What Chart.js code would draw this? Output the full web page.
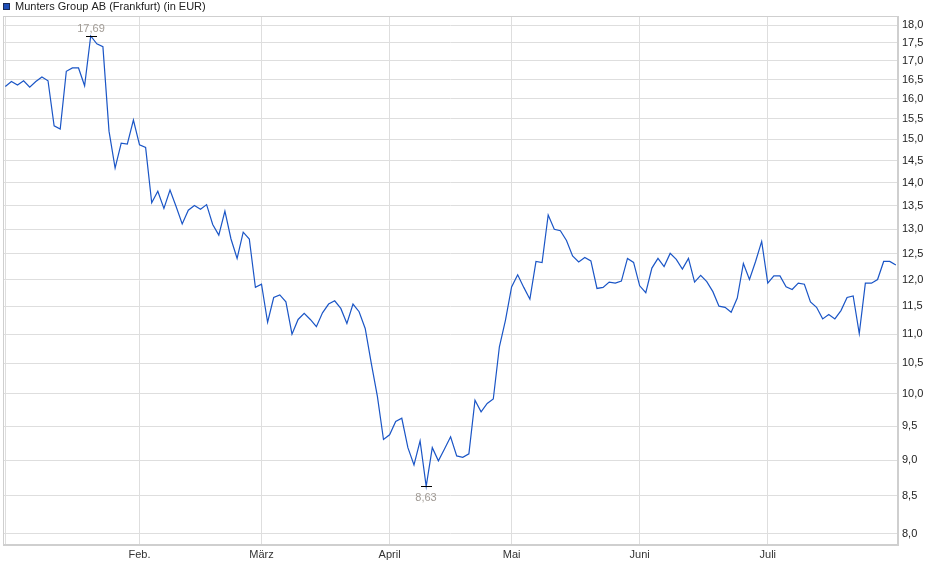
<!DOCTYPE html>
<html><head><meta charset="utf-8">
<script src="https://cdn.jsdelivr.net/npm/chart.js@4.4.1/dist/chart.umd.min.js"></script>
<style>html,body{margin:0;padding:0;background:#fff;}canvas{display:block;}</style>
</head><body>
<canvas id="c" width="940" height="579"></canvas>
<script>
const seriesTitle = 'Munters Group AB (Frankfurt) (in EUR)';
const monthKeys = ['2025-01','2025-02','2025-03','2025-04','2025-05','2025-06','2025-07'];
const monthLabels = ['', 'Feb.', 'März', 'April', 'Mai', 'Juni', 'Juli'];
const tradingDays = [
  [2,3,6,7,8,9,10,13,14,15,16,17,20,21,22,23,24,27,28,29,30,31],
  [3,4,5,6,7,10,11,12,13,14,17,18,19,20,21,24,25,26,27,28],
  [3,4,5,6,7,10,11,12,13,14,17,18,19,20,21,24,25,26,27,28,31],
  [1,2,3,4,7,8,9,10,11,14,15,16,17,22,23,24,25,28,29,30],
  [2,5,6,7,8,9,12,13,14,15,16,19,20,21,22,23,26,27,28,29,30],
  [2,3,4,5,6,9,10,11,12,13,16,17,18,19,20,23,24,25,26,27,30],
  [1,2,3,4,7,8,9,10,11,14,15,16,17,18,21,22,23,24,25,28,29,30]
];
const prices = [
  16.32,16.45,16.36,16.47,16.30,16.45,16.57,16.47,15.33,15.25,
  16.72,16.81,16.81,16.34,17.69,17.47,17.39,15.20,14.33,14.91,
  14.89,15.47,14.87,14.81,13.56,13.81,13.44,13.84,13.48,13.11,
  13.40,13.50,13.42,13.52,13.10,12.88,13.38,12.80,12.41,12.94,
  12.80,11.85,11.91,11.21,11.66,11.71,11.58,11.00,11.26,11.37,
  11.26,11.13,11.38,11.54,11.60,11.46,11.19,11.54,11.40,11.10,
  10.50,9.96,9.30,9.37,9.57,9.62,9.18,8.93,9.28,8.63,
  9.18,8.99,9.16,9.34,9.06,9.04,9.09,9.90,9.72,9.85,
  9.92,10.78,11.25,11.86,12.09,11.85,11.63,12.35,12.33,13.30,
  13.00,12.97,12.77,12.46,12.34,12.43,12.36,11.83,11.85,11.95,
  11.93,11.97,12.41,12.33,11.88,11.75,12.22,12.41,12.25,12.51,
  12.39,12.20,12.41,11.95,12.08,11.96,11.77,11.50,11.48,11.39,
  11.65,12.31,12.00,12.35,12.75,11.93,12.07,12.07,11.86,11.81,
  11.93,11.91,11.58,11.48,11.27,11.35,11.27,11.42,11.66,11.69,
  11.01,11.93,11.93,12.00,12.35,12.35,12.28
];
const yTicks = [8.0,8.5,9.0,9.5,10.0,10.5,11.0,11.5,12.0,12.5,13.0,13.5,14.0,14.5,15.0,15.5,16.0,16.5,17.0,17.5,18.0];

// category labels (dates) and first trading day of each month
const dates = [];
const monthStart = [];
tradingDays.forEach((days, m) => {
  monthStart.push(dates.length);
  days.forEach(d => dates.push(monthKeys[m] + '-' + String(d).padStart(2, '0')));
});

const FONT = 'Liberation Sans, Arial, sans-serif';
const fmt = v => Number(v).toFixed(2).replace('.', ',');

const framePlugin = {
  id: 'frame',
  beforeDatasetsDraw(chart) {
    const {ctx, chartArea: a} = chart;
    ctx.save();
    ctx.strokeStyle = '#cfcfcf';
    ctx.lineWidth = 1;
    ctx.strokeRect(Math.round(a.left) + 0.5, Math.round(a.top) + 0.5,
                   Math.round(a.right - a.left) - 1, Math.round(a.bottom - a.top) - 1);
    ctx.restore();
  },
  afterDraw(chart) {
    const ctx = chart.ctx;
    ctx.save();
    // legend
    ctx.fillStyle = '#1f4fb8';
    ctx.fillRect(3, 3, 7, 7);
    ctx.strokeStyle = '#1a2a55';
    ctx.lineWidth = 1;
    ctx.strokeRect(3.5, 3.5, 6, 6);
    ctx.fillStyle = '#222';
    ctx.font = '11px ' + FONT;
    ctx.textAlign = 'left';
    ctx.textBaseline = 'middle';
    ctx.fillText(seriesTitle, 15, 7);
    // high / low markers
    const xs = chart.scales.x, ys = chart.scales.y;
    const hi = Math.max(...prices), lo = Math.min(...prices);
    const iHi = prices.indexOf(hi), iLo = prices.indexOf(lo);
    ctx.strokeStyle = '#000';
    ctx.lineWidth = 1;
    ctx.textAlign = 'center';
    ctx.fillStyle = '#a09a94';
    let px = Math.round(xs.getPixelForValue(iHi)), py = Math.round(ys.getPixelForValue(hi));
    ctx.beginPath(); ctx.moveTo(px - 5, py + 0.5); ctx.lineTo(px + 6, py + 0.5); ctx.stroke();
    ctx.textBaseline = 'alphabetic';
    ctx.fillText(fmt(hi), px, py - 4);
    px = Math.round(xs.getPixelForValue(iLo)); py = Math.round(ys.getPixelForValue(lo));
    ctx.beginPath(); ctx.moveTo(px - 5, py + 0.5); ctx.lineTo(px + 6, py + 0.5); ctx.stroke();
    ctx.textBaseline = 'top';
    ctx.fillText(fmt(lo), px, py + 6);
    ctx.restore();
  }
};

new Chart(document.getElementById('c'), {
  type: 'line',
  data: {
    labels: dates,
    datasets: [{
      label: seriesTitle,
      data: prices.map((v, i) => ({x: i, y: v})),
      borderColor: '#1a55c6',
      borderWidth: 1.2,
      pointRadius: 0,
      tension: 0,
      fill: false
    }]
  },
  options: {
    responsive: false,
    animation: false,
    devicePixelRatio: 1,
    layout: {padding: {left: 3, top: 16, right: 0, bottom: 0}},
    plugins: {legend: {display: false}, tooltip: {enabled: false}},
    scales: {
      x: {
        type: 'linear',
        min: -0.38,
        max: dates.length - 1 + 0.35,
        afterBuildTicks: s => { s.ticks = monthStart.map(v => ({value: v})); },
        afterFit: s => { s.height = 34; },
        ticks: {
          autoSkip: false, maxRotation: 0, padding: 3, color: '#333',
          font: {family: FONT, size: 11},
          callback: v => { const k = monthStart.indexOf(v); return k >= 0 ? monthLabels[k] : ''; }
        },
        grid: {color: '#dedede', lineWidth: 1, drawTicks: false},
        border: {display: true, color: '#cfcfcf'}
      },
      y: {
        type: 'logarithmic',
        position: 'right',
        min: 7.861,
        max: 18.26,
        afterBuildTicks: s => { s.ticks = yTicks.map(v => ({value: v})); },
        afterFit: s => { s.width = 42; },
        ticks: {
          padding: 4, color: '#222',
          font: {family: FONT, size: 11},
          callback: v => Number(v).toFixed(1).replace('.', ',')
        },
        grid: {color: '#dedede', lineWidth: 1, drawTicks: false},
        border: {display: true, color: '#cfcfcf'}
      }
    }
  },
  plugins: [framePlugin]
});
</script>
</body></html>
